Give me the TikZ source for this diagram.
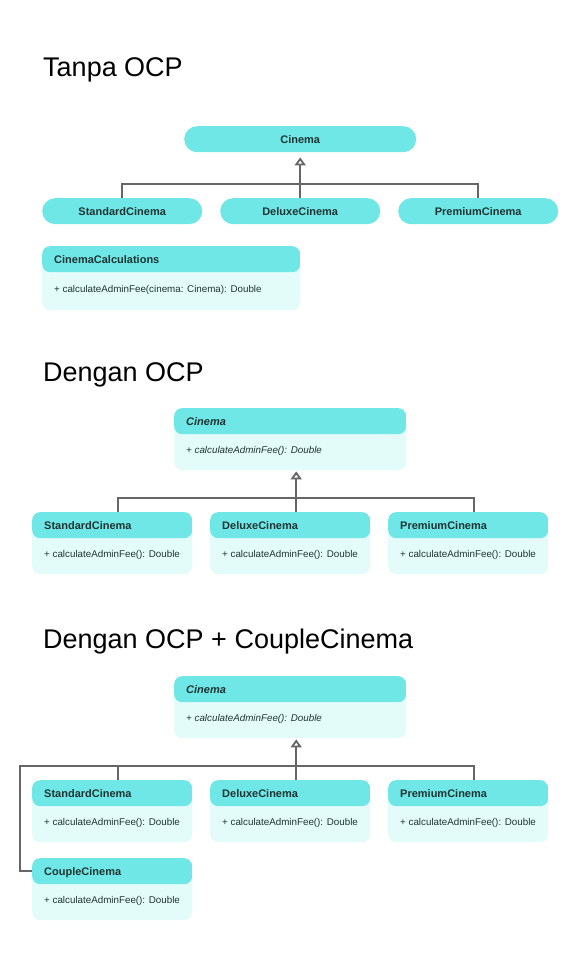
\documentclass[tikz,border=0pt]{standalone}
\usepackage{fontspec}
\setmainfont{Liberation Sans}
\usetikzlibrary{arrows.meta}
\definecolor{hdr}{HTML}{6EE7E6}
\definecolor{bodyc}{HTML}{E3FCFA}
\definecolor{linec}{HTML}{666666}
\definecolor{txt}{HTML}{1F3333}
\newcommand{\umlcls}[7]{%
  \node[umlbox, minimum width=#4pt, minimum height=#5pt] (#1) at (#2,#3) {};
  \node[hdrtxt] (#1-t) at ([xshift=12pt,yshift=-17.5pt]#1.north west) {#6};
  \node[bodytxt] (#1-m) at ([xshift=12pt,yshift=-45.5pt]#1.north west) {#7};
}
\begin{document}
\begin{tikzpicture}[x=1pt,y=-1pt,
  titletxt/.style={anchor=base west, inner sep=0pt, font=\fontsize{27}{32}\selectfont, text=black},
  pill/.style={fill=hdr, rounded corners=13pt, minimum height=26pt, minimum width=160pt,
    inner sep=0pt, anchor=north west, font=\fontsize{11}{13}\selectfont\bfseries, text=txt},
  umlbox/.style={fill=bodyc, rounded corners=8pt, inner sep=0pt, anchor=north west,
    path picture={\fill[hdr] (path picture bounding box.north west) rectangle ([yshift=-26pt]path picture bounding box.north east);}},
  hdrtxt/.style={anchor=base west, inner sep=0pt, font=\fontsize{11}{13}\selectfont\bfseries, text=txt},
  bodytxt/.style={anchor=base west, inner sep=0pt, font=\fontsize{9.8}{11}\selectfont, text=txt},
  conn/.style={draw=linec, line width=2.2pt},
  inh/.style={draw=linec, line width=2.2pt, -{Triangle[open, length=8pt, width=11pt, line width=1.8pt]}}
]
\fill[white] (0,0) rectangle (580,960);
\useasboundingbox (0,0) rectangle (580,960);

% ---------- Section 1 ----------
\node[titletxt] (t1) at (43,77) {Tanpa OCP};
\node[pill, minimum width=232pt] (cin1) at (184,126) {Cinema};
\node[pill] (std1) at (42,198) {StandardCinema};
\node[pill] (dlx1) at (220,198) {DeluxeCinema};
\node[pill] (prem1) at (398,198) {PremiumCinema};
\coordinate (j1) at (300,184);
\draw[conn] (std1.north) |- (j1) -| (prem1.north);
\draw[inh] (dlx1.north) -- ([yshift=-5pt]cin1.south);
\node[umlbox, minimum width=258pt, minimum height=64pt] (calc) at (42,246) {};
\node[hdrtxt] (calc-t) at ([xshift=12pt,yshift=-17.5pt]calc.north west) {CinemaCalculations};
\node[bodytxt] (calc-m) at ([xshift=12pt,yshift=-46.5pt]calc.north west) {+ calculateAdminFee(cinema: Cinema): Double};

% ---------- Section 2 ----------
\node[titletxt] (t2) at (43,381) {Dengan OCP};
\umlcls{cin2}{174}{408}{232}{62}{\itshape Cinema}{\itshape + calculateAdminFee(): Double}
\umlcls{std2}{32}{512}{160}{62}{StandardCinema}{+ calculateAdminFee(): Double}
\umlcls{dlx2}{210}{512}{160}{62}{DeluxeCinema}{+ calculateAdminFee(): Double}
\umlcls{prem2}{388}{512}{160}{62}{PremiumCinema}{+ calculateAdminFee(): Double}
\coordinate (j2) at (296,498);
\draw[conn] ([xshift=6pt]std2.north) |- (j2) -| ([xshift=6pt]prem2.north);
\draw[inh] ([xshift=6pt]dlx2.north) -- ([xshift=6pt,yshift=-1pt]cin2.south);

% ---------- Section 3 ----------
\node[titletxt] (t3) at (43,648) {Dengan OCP + CoupleCinema};
\umlcls{cin3}{174}{676}{232}{62}{\itshape Cinema}{\itshape + calculateAdminFee(): Double}
\umlcls{std3}{32}{780}{160}{62}{StandardCinema}{+ calculateAdminFee(): Double}
\umlcls{dlx3}{210}{780}{160}{62}{DeluxeCinema}{+ calculateAdminFee(): Double}
\umlcls{prem3}{388}{780}{160}{62}{PremiumCinema}{+ calculateAdminFee(): Double}
\umlcls{cpl3}{32}{858}{160}{62}{CoupleCinema}{+ calculateAdminFee(): Double}
\coordinate (j3) at (20,766);
\draw[conn] ([yshift=-13pt]cpl3.north west) -| (j3) -| ([xshift=6pt]prem3.north);
\draw[conn] ([xshift=6pt]std3.north) -- ([xshift=6pt]std3.north |- j3);
\draw[inh] ([xshift=6pt]dlx3.north) -- ([xshift=6pt,yshift=-1pt]cin3.south);
\end{tikzpicture}
\end{document}
